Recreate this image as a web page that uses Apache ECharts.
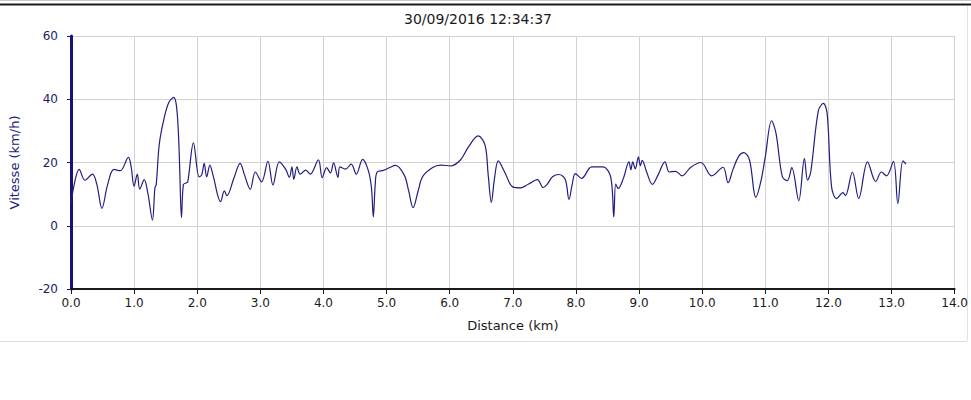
<!DOCTYPE html>
<html>
<head>
<meta charset="utf-8">
<script src="https://cdn.jsdelivr.net/npm/echarts@6/dist/echarts.min.js"></script>
<style>
html,body{margin:0;padding:0;background:#fff;}
#chart{width:971px;height:400px;}
</style>
</head>
<body>
<div id="chart"></div>
<script>
const chartTitle = '30/09/2016 12:34:37';
const xAxisName = 'Distance (km)';
const yAxisName = 'Vitesse (km/h)';
const xTicks = [0, 14, 1];   // min, max, interval
const yTicks = [-20, 60, 20];

const distanceKm = [
  0.00, 0.05, 0.13, 0.22, 0.34, 0.41, 0.49, 0.58, 0.68, 0.78, 0.91, 0.95, 1.00, 1.05, 1.09, 1.16, 1.22, 1.29, 1.33, 1.35,
  1.40, 1.48, 1.55, 1.63, 1.67, 1.70, 1.72, 1.75, 1.78, 1.82, 1.85, 1.94, 2.03, 2.07, 2.11, 2.15, 2.20, 2.25, 2.37, 2.43,
  2.47, 2.58, 2.68, 2.75, 2.84, 2.92, 3.02, 3.12, 3.20, 3.30, 3.40, 3.46, 3.50, 3.53, 3.58, 3.63, 3.72, 3.79, 3.92, 3.98,
  4.05, 4.11, 4.16, 4.23, 4.26, 4.35, 4.44, 4.52, 4.62, 4.71, 4.76, 4.79, 4.82, 4.85, 4.95, 5.05, 5.14, 5.28, 5.35, 5.42,
  5.50, 5.57, 5.73, 5.86, 6.01, 6.17, 6.30, 6.45, 6.56, 6.61, 6.66, 6.71, 6.77, 6.87, 7.00, 7.13, 7.25, 7.39, 7.48, 7.54,
  7.63, 7.73, 7.83, 7.89, 7.94, 7.99, 8.09, 8.25, 8.43, 8.55, 8.60, 8.63, 8.67, 8.75, 8.84, 8.87, 8.90, 8.94, 8.99, 9.02,
  9.05, 9.12, 9.21, 9.30, 9.41, 9.48, 9.58, 9.68, 9.82, 9.98, 10.15, 10.33, 10.41, 10.49, 10.58, 10.66, 10.75, 10.85, 10.93, 11.00,
  11.10, 11.17, 11.27, 11.35, 11.42, 11.53, 11.62, 11.67, 11.72, 11.84, 11.92, 11.98, 12.05, 12.13, 12.23, 12.27, 12.38, 12.48, 12.62, 12.75,
  12.84, 12.92, 13.03, 13.10, 13.18, 13.23
];
const speedKmh = [
  6.5, 13, 17.8, 14.4, 16.3, 13, 5.5, 13, 17.8, 17.4, 21.6, 19, 12.5, 16.3, 11.6, 14.6, 10, 1.8, 12, 13,
  26, 34.4, 39, 40.6, 38, 30, 19.7, 2.6, 13, 13.5, 13.9, 26.2, 15.5, 16, 19.7, 15.5, 19.2, 16, 7.6, 11,
  9.5, 15, 19.7, 16, 11.5, 17, 13.9, 20.4, 12.9, 20.2, 17.9, 15.3, 18.6, 14.7, 18.6, 16.3, 17.6, 16.3, 20.8, 15.2,
  18.4, 16.7, 19.9, 15.3, 18.6, 17.9, 19.5, 16.3, 21, 17.5, 12, 2.8, 13, 17, 17.5, 18.4, 19.1, 16, 11, 5.7,
  11, 15.5, 18.4, 19.2, 18.9, 20.8, 25, 28.4, 25.5, 16, 7.4, 15, 20.5, 17, 12.3, 12, 13.2, 14.6, 12.1, 13,
  15.5, 16.2, 14.7, 8.3, 13, 16.5, 15, 18.6, 18.6, 15.5, 2.8, 13.2, 11.8, 14.9, 20.2, 17.7, 20.2, 18, 21.8, 19,
  20.7, 17, 13.1, 16, 20.2, 17, 17.2, 15.8, 18.5, 20, 15.8, 18.5, 13.6, 17.9, 22, 23.1, 20.8, 9.0, 14, 21.8,
  33.2, 29.2, 15.5, 14.3, 18.4, 7.9, 21.2, 14.4, 17, 36.3, 38.7, 35.5, 12.3, 8.6, 10.5, 9.5, 17, 8.6, 20.2, 14,
  17, 15.8, 20.4, 7.0, 20.5, 19.5
];

const seriesData = distanceKm.map((d, i) => [d, speedKmh[i]]);

const FONT = 'DejaVu Sans';
const chart = echarts.init(document.getElementById('chart'), null, {renderer: 'svg'});
chart.setOption({
  animation: false,
  backgroundColor: '#ffffff',
  grid: {left: 67, right: 8, top: 36, bottom: 111, containLabel: false},
  graphic: [
    {type: 'line', shape: {x1: 0, y1: 0.5, x2: 971, y2: 0.5}, style: {stroke: '#c8c8c8', lineWidth: 1}, silent: true},
    {type: 'line', shape: {x1: 0, y1: 4.5, x2: 971, y2: 4.5}, style: {stroke: '#1a1a1a', lineWidth: 2}, silent: true},
    {type: 'line', shape: {x1: 0, y1: 341.5, x2: 967, y2: 341.5}, style: {stroke: '#dcdcdc', lineWidth: 1}, silent: true},
    {type: 'line', shape: {x1: 967.5, y1: 6, x2: 967.5, y2: 341}, style: {stroke: '#e2e2e2', lineWidth: 1}, silent: true},
    {type: 'text', x: 478, y: 19, style: {text: chartTitle, font: '14px "DejaVu Sans"', fill: '#1a1a1a', align: 'center', verticalAlign: 'middle'}, silent: true}
  ],
  xAxis: {
    type: 'value', min: xTicks[0], max: xTicks[1], interval: xTicks[2],
    name: xAxisName, nameLocation: 'middle', nameGap: 30,
    nameTextStyle: {fontFamily: FONT, fontSize: 13, color: '#1a1a1a'},
    axisLine: {show: true, onZero: false, lineStyle: {color: '#1a1a1a', width: 2}},
    axisTick: {show: true, length: 5, lineStyle: {color: '#1a1a1a', width: 1}},
    axisLabel: {fontFamily: FONT, fontSize: 12, color: '#1a1a1a', margin: 8, formatter: v => v.toFixed(1)},
    splitLine: {show: true, lineStyle: {color: '#d2d2d2', width: 1}}
  },
  yAxis: {
    type: 'value', min: yTicks[0], max: yTicks[1], interval: yTicks[2],
    name: yAxisName, nameLocation: 'middle', nameGap: 50, nameRotate: 90,
    nameTextStyle: {fontFamily: FONT, fontSize: 13, color: '#20207a'},
    axisLine: {show: true, onZero: false, lineStyle: {color: '#14147a', width: 3}},
    axisTick: {show: true, length: 4, lineStyle: {color: '#14147a', width: 1}},
    axisLabel: {fontFamily: FONT, fontSize: 12, color: '#1c1c66', margin: 13},
    splitLine: {show: true, lineStyle: {color: '#d2d2d2', width: 1}}
  },
  series: [{
    type: 'line', data: seriesData, smooth: 0.35, showSymbol: false,
    lineStyle: {color: '#1f1f80', width: 1.2}, clip: true
  }]
});
</script>
</body>
</html>
